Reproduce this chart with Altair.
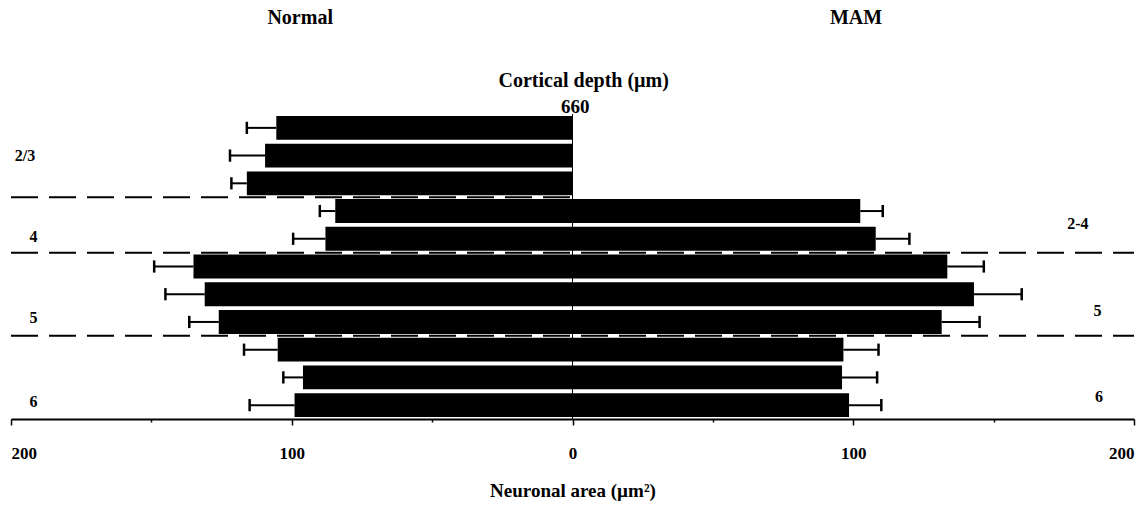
import altair as alt
import pandas as pd

# ---- data ----
normal_rows = [1, 2, 3, 4, 5, 6, 7, 8, 9, 10, 11]
normal_mean = [105.5, 109.5, 116, 84.5, 88, 135, 131, 126, 105, 96, 99]
normal_sem = [10.5, 12.5, 5.5, 5.5, 11.5, 14, 14, 10.5, 12, 7, 16]

mam_rows = [4, 5, 6, 7, 8, 9, 10, 11]
mam_mean = [102.5, 108, 133.5, 143, 131.5, 96.5, 96, 98.5]
mam_sem = [8, 12, 13, 17, 13.5, 12.5, 12.5, 11.5]

# layer boundaries (row positions) and their horizontal extent
boundary_pos = [3.5, 5.5, 8.5]
boundary_x1 = [-200, -200, -200]
boundary_x2 = [0, 200, 200]

# text annotations
ann_text = ["Normal", "MAM", "Cortical depth (µm)", "660",
            "2/3", "4", "5", "6", "2-4", "5", "6"]
ann_x = [-97, 101, 4, 1, -195, -192, -192, -192, 180, 187, 187.5]
ann_y = [-2.95, -2.95, -0.7, 0.23, 2.0, 4.95, 7.85, 10.9, 4.48, 7.6, 10.72]
ann_size = [20, 20, 20, 19, 16, 16, 16, 16, 16, 16, 16]

tick_values = [-200, -150, -100, -50, 0, 50, 100, 150, 200]

# ---- tables ----
df = pd.concat([
    pd.DataFrame({"side": "Normal", "row": normal_rows, "mean": normal_mean,
                  "sem": normal_sem, "sign": -1}),
    pd.DataFrame({"side": "MAM", "row": mam_rows, "mean": mam_mean,
                  "sem": mam_sem, "sign": 1}),
], ignore_index=True)

bounds = pd.DataFrame({"pos": boundary_pos, "x1": boundary_x1, "x2": boundary_x2})
ann = pd.DataFrame({"text": ann_text, "x": ann_x, "y": ann_y, "size": ann_size})
zero_df = pd.DataFrame({"z": [0], "y1": [0.5], "y2": [11.5]})

FONT = "Liberation Serif"

xs = alt.Scale(domain=[-200, 200], nice=False, zero=False)
ys = alt.Scale(domain=[0.5, 11.5], nice=False, zero=False, reverse=True)
x_axis = alt.Axis(
    values=tick_values,
    labelExpr="datum.value % 100 == 0 ? abs(datum.value) : ''",
    tickSize={"condition": {"test": "datum.value % 100 == 0", "value": 6}, "value": 3},
    title="Neuronal area (µm²)", grid=False)

base = alt.Chart(df).transform_calculate(
    sv="datum.sign * datum.mean",
    se="datum.sign * (datum.mean + datum.sem)",
    zero="0",
    ylo="datum.row - 0.43",
    yhi="datum.row + 0.43",
    clo="datum.row - 0.22",
    chi="datum.row + 0.22",
)

bars = base.mark_bar(color="black").encode(
    x=alt.X("sv:Q", scale=xs, axis=x_axis),
    x2="zero:Q",
    y=alt.Y("ylo:Q", scale=ys, axis=None),
    y2="yhi:Q",
)

whisk = base.mark_rule(color="black", strokeWidth=2).encode(
    x=alt.X("sv:Q", scale=xs, axis=x_axis),
    x2="se:Q",
    y=alt.Y("row:Q", scale=ys, axis=None),
)

caps = base.mark_rule(color="black", strokeWidth=2.5).encode(
    x=alt.X("se:Q", scale=xs, axis=x_axis),
    y=alt.Y("clo:Q", scale=ys, axis=None),
    y2="chi:Q",
)

zero_line = alt.Chart(zero_df).mark_rule(color="black", strokeWidth=1).encode(
    x=alt.X("z:Q", scale=xs, axis=x_axis),
    y=alt.Y("y1:Q", scale=ys, axis=None),
    y2="y2:Q",
)

dashes = alt.Chart(bounds).mark_rule(
    color="black", strokeWidth=2, strokeDash=[27, 11]).encode(
    x=alt.X("x1:Q", scale=xs, axis=x_axis),
    x2="x2:Q",
    y=alt.Y("pos:Q", scale=ys, axis=None),
)

texts = alt.Chart(ann).mark_text(
    font=FONT, fontWeight="bold", color="black",
    align="center", baseline="middle").encode(
    x=alt.X("x:Q", scale=xs, axis=x_axis),
    y=alt.Y("y:Q", scale=ys, axis=None),
    size=alt.Size("size:Q", scale=None, legend=None),
    text="text:N",
)

chart = alt.layer(dashes, bars, whisk, caps, zero_line, texts).properties(
    width=1123, height=305,
    autosize=alt.AutoSizeParams(type="none"),
    padding={"left": 11, "top": 114, "right": 10, "bottom": 89},
    background="white",
).configure_view(stroke=None).configure_axis(
    domainColor="black", domainWidth=2, tickColor="black", tickWidth=1.5,
    labelFont=FONT, labelFontWeight="bold", labelFontSize=17,
    labelColor="black", labelPadding=20, titleFont=FONT, titleFontWeight="bold",
    titleFontSize=19, titleColor="black", titlePadding=20,
)

chart.save("out.html", embed_options={"renderer": "svg", "actions": False})
